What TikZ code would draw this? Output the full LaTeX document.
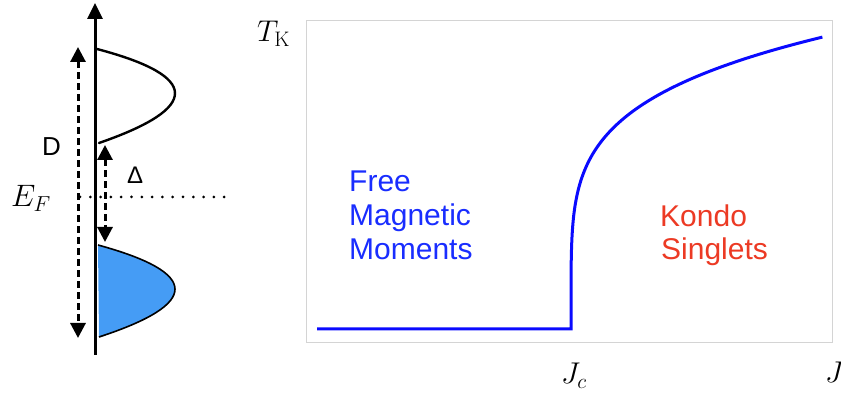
\RequirePackage{fix-cm}
\documentclass[tikz,border=0pt]{standalone}
\usepackage{fontspec}
\setsansfont{Liberation Sans}
\usetikzlibrary{arrows.meta}
\definecolor{bandblue}{RGB}{69,156,245}
\definecolor{curveblue}{RGB}{10,10,255}
\definecolor{textblue}{RGB}{25,45,255}
\definecolor{textred}{RGB}{236,58,36}
\definecolor{boxgray}{RGB}{212,212,212}
\tikzset{
  axisline/.style={line width=3pt},
  dasharrow/.style={line width=3pt, dash pattern=on 7pt off 4pt, {Triangle[width=15pt,length=15pt]}-{Triangle[width=15pt,length=15pt]}},
  bandline/.style={line width=2.4pt, line cap=round},
  dotline/.style={line width=3pt, line cap=round, dash pattern=on 0pt off 10.3pt},
  mathlbl/.style={inner sep=0pt, font=\fontsize{30}{36}\selectfont},
  sanslbl/.style={inner sep=0pt, font=\sffamily\fontsize{26}{31}\selectfont},
  bluetxt/.style={inner sep=0pt, anchor=base west, text=textblue, font=\sffamily\fontsize{30}{34}\selectfont},
  redtxt/.style={inner sep=0pt, anchor=base west, text=textred, font=\sffamily\fontsize{30}{34}\selectfont},
}
\begin{document}
\begin{tikzpicture}[x=1pt,y=-1pt]
\useasboundingbox (0,0) rectangle (841,395);
% ---------- left panel ----------
\coordinate (axbot) at (95,355);
\coordinate (axtop) at (95,3);
\coordinate (Dtop) at (78,47);
\coordinate (Dbot) at (78,338);
\coordinate (gaptop) at (105,145);
\coordinate (gapbot) at (105,242);
\coordinate (efl) at (80,197);
\coordinate (efr) at (224.5,197);
% lower (filled) band
\fill[bandblue] (98,245) .. controls (200.3,273) and (200.7,303.7) .. (99,337) -- cycle;
\draw[line width=1.6pt] (98,245) .. controls (200.3,273) and (200.7,303.7) .. (99,337);
% upper (empty) band
\draw[bandline] (97,49) .. controls (200.3,76.3) and (201,107.7) .. (99,143);
% Fermi level
\draw[dotline] (efl) -- (efr);
% energy axis
\draw[axisline, -{Triangle[width=15pt,length=16pt]}] (axbot) -- (axtop);
% bandwidth and gap
\draw[dasharrow] (Dtop) -- (Dbot);
\draw[dasharrow] (gaptop) -- (gapbot);
\node[sanslbl, anchor=base west] (Dlbl) at (42,156) {D};
\node[sanslbl, anchor=base west, font=\sffamily\fontsize{24}{29}\selectfont] (gaplbl) at (127,184) {Δ};
\node[mathlbl, anchor=base west, font=\fontsize{31}{36}\selectfont] (eflbl) at (11,207) {$E_F$};
% ---------- right panel ----------
\draw[boxgray, line width=1.5pt] (306.5,20.5) rectangle (832.5,342.5);
\node[mathlbl, anchor=base west] (tk) at (257,42) {$T_{\mathrm{K}}$};
\node[mathlbl, anchor=base] (jc) at (574,384) {$J_c$};
\node[mathlbl, anchor=base west] (jj) at (825,383) {$J$};
\coordinate (flatl) at (317,329);
\coordinate (jcpt) at (571,329);
\draw[curveblue, line width=3pt] (flatl) -- (jcpt)
  -- plot[domain=0.01:1, samples=120, smooth] ({571+252*pow(\x,4.785)}, {329-292*\x});
\node[bluetxt] (free) at (349,192) {Free};
\node[bluetxt] (magnetic) at (349,226) {Magnetic};
\node[bluetxt] (moments) at (349,260) {Moments};
\node[redtxt] (kondo) at (660,227) {Kondo};
\node[redtxt] (singlets) at (661,260) {Singlets};
\end{tikzpicture}
\end{document}
